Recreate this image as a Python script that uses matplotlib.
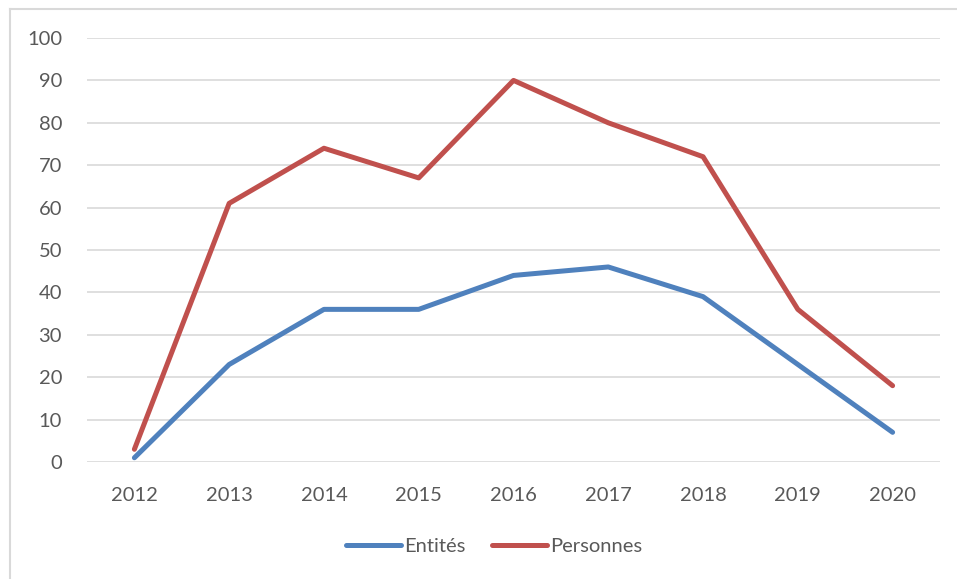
import matplotlib.pyplot as plt
from matplotlib.lines import Line2D

years = ["2012", "2013", "2014", "2015", "2016", "2017", "2018", "2019", "2020"]
entites = [1, 23, 36, 36, 44, 46, 39, 23, 7]
personnes = [3, 61, 74, 67, 90, 80, 72, 36, 18]

plt.rcParams['font.family'] = ['Lato', 'DejaVu Sans']
text_col = '#595959'

fig = plt.figure(figsize=(9.57, 5.79), dpi=100)
W, H = 957, 579
ax = fig.add_axes([87 / W, 1 - 462 / H, (940 - 87) / W, (462 - 38) / H])

# outer chart frame: only left and top edges are visible
frame_kw = dict(transform=fig.transFigure, color='#D9D9D9', linewidth=1.5)
fig.lines.append(Line2D([9.5 / W, 9.5 / W], [0, 1 - 8.5 / H], **frame_kw))
fig.lines.append(Line2D([9.5 / W, 1], [1 - 8.5 / H, 1 - 8.5 / H], **frame_kw))

x = range(len(years))
ax.plot(x, entites, color='#4F81BD', linewidth=3.6, solid_capstyle='round',
        solid_joinstyle='round', label='Entités')
ax.plot(x, personnes, color='#C0504D', linewidth=3.6, solid_capstyle='round',
        solid_joinstyle='round', label='Personnes')

ax.set_xlim(-0.5, len(years) - 0.5)
ax.set_ylim(0, 100)
ax.set_yticks(range(0, 101, 10))
ax.set_xticks(list(x))
ax.set_xticklabels(years)
ax.grid(axis='y', color='#D9D9D9', linewidth=1.2)
ax.set_axisbelow(True)
for s in ax.spines.values():
    s.set_visible(False)
ax.tick_params(length=0, labelsize=14.5, colors=text_col)
ax.tick_params(axis='x', pad=18)
ax.tick_params(axis='y', pad=18)

leg = fig.legend(loc='center', bbox_to_anchor=(494 / W, 1 - 546 / H), ncol=2,
                 frameon=False, fontsize=14.5, handlelength=2.75, handletextpad=0.15,
                 columnspacing=1.3)
for t in leg.get_texts():
    t.set_color(text_col)

fig.savefig('out.png', dpi=100)
